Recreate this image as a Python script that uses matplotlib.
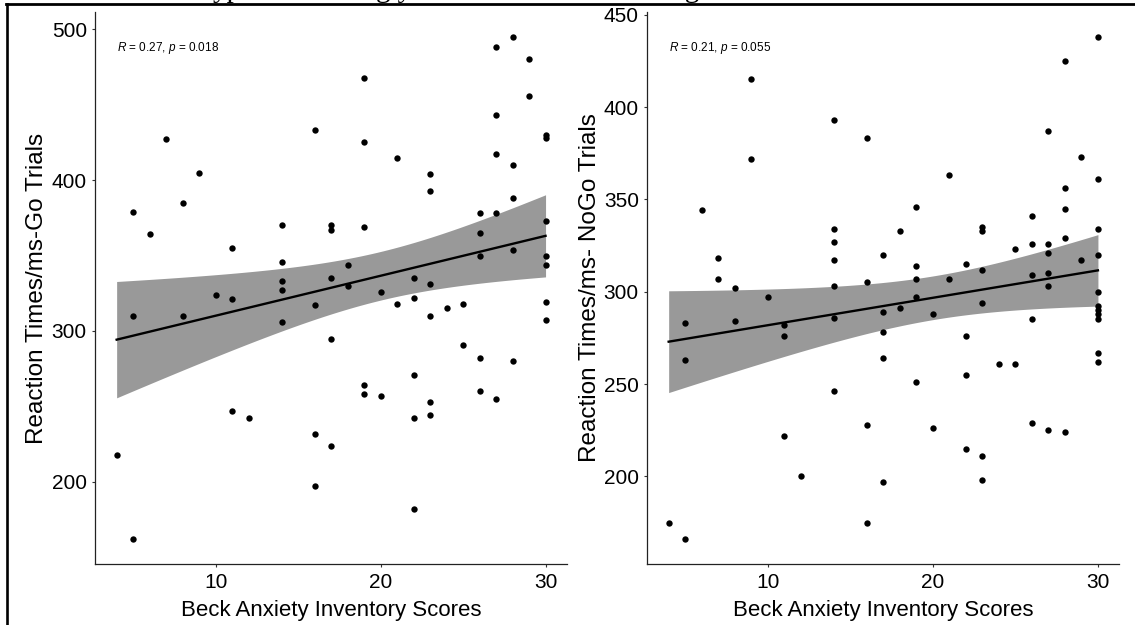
import numpy as np
import matplotlib
matplotlib.use("Agg")
import matplotlib.pyplot as plt
from matplotlib.lines import Line2D

plt.rcParams['font.family'] = ['Liberation Sans', 'DejaVu Sans']
plt.rcParams['mathtext.fontset'] = 'custom'
plt.rcParams['mathtext.it'] = 'Liberation Sans:italic'
plt.rcParams['mathtext.rm'] = 'Liberation Sans'

# ---------------- data ----------------
go_x = [4, 5, 5, 5, 6, 7, 8, 8, 9, 10, 11, 11, 11, 12, 14, 14, 14, 14, 14,
        16, 16, 16, 16, 17, 17, 17, 17, 17, 18, 18, 19, 19, 19, 19, 19, 20, 20,
        21, 21, 22, 22, 22, 22, 22, 23, 23, 23, 23, 23, 23, 24, 25, 25,
        26, 26, 26, 26, 26, 27, 27, 27, 27, 27, 28, 28, 28, 28, 28, 29, 29,
        30, 30, 30, 30, 30, 30, 30]
go_y = [218, 379, 310, 162, 364, 427, 385, 310, 405, 324, 355, 321, 247, 242,
        370, 346, 333, 327, 306, 433, 317, 232, 197, 370, 367, 335, 295, 224,
        344, 330, 468, 425, 369, 264, 258, 326, 257, 415, 318, 335, 322, 271,
        242, 182, 404, 393, 331, 310, 253, 244, 315, 318, 291, 378, 365, 350,
        282, 260, 488, 443, 417, 378, 255, 495, 410, 388, 354, 280, 480, 456,
        430, 428, 373, 350, 344, 319, 307]

nogo_x = [4, 5, 5, 5, 6, 7, 7, 8, 8, 9, 9, 10, 11, 11, 11, 12,
          14, 14, 14, 14, 14, 14, 14, 16, 16, 16, 16, 17, 17, 17, 17, 17,
          18, 18, 19, 19, 19, 19, 19, 20, 20, 21, 21, 22, 22, 22, 22,
          23, 23, 23, 23, 23, 23, 24, 25, 25, 26, 26, 26, 26, 26,
          27, 27, 27, 27, 27, 27, 28, 28, 28, 28, 28, 29, 29,
          30, 30, 30, 30, 30, 30, 30, 30, 30, 30, 30]
nogo_y = [175, 283, 263, 166, 344, 318, 307, 302, 284, 415, 372, 297, 282, 276,
          222, 200, 393, 334, 327, 317, 303, 286, 246, 383, 305, 228, 175,
          320, 289, 278, 264, 197, 333, 291, 346, 314, 307, 297, 251, 288, 226,
          363, 307, 315, 276, 255, 215, 335, 333, 312, 294, 211, 198, 261, 323,
          261, 341, 326, 309, 285, 229, 387, 326, 321, 310, 303, 225, 425, 356,
          345, 329, 224, 373, 317, 438, 361, 334, 320, 300, 292, 290, 288, 285,
          267, 262]

x_ticks = [10, 20, 30]
go_yticks = [200, 300, 400, 500]
nogo_yticks = [200, 250, 300, 350, 400, 450]
go_label = "$R$ = 0.27, $p$ = 0.018"
nogo_label = "$R$ = 0.21, $p$ = 0.055"
x_title = "Beck Anxiety Inventory Scores"
go_title = "Reaction Times/ms-Go Trials"
nogo_title = "Reaction Times/ms- NoGo Trials"

# ---------------- figure ----------------
W, H = 1135, 625
fig = plt.figure(figsize=(W / 100, H / 100), dpi=100)
fig.patch.set_facecolor('white')


def lm_band(x, y):
    x = np.asarray(x, float)
    y = np.asarray(y, float)
    n = len(x)
    b, a = np.polyfit(x, y, 1)
    resid = y - (a + b * x)
    s = np.sqrt(np.sum(resid ** 2) / (n - 2))
    xg = np.linspace(x.min(), x.max(), 80)
    yg = a + b * xg
    se = s * np.sqrt(1 / n + (xg - x.mean()) ** 2 / np.sum((x - x.mean()) ** 2))
    t = 1.992
    return xg, yg, yg - t * se, yg + t * se


def panel(rect, xs, ys, yticks, ylabel, ann, ylab_x):
    ax = fig.add_axes(rect)
    xg, yg, lo, hi = lm_band(xs, ys)
    ax.fill_between(xg, lo, hi, color='#999999', lw=0, zorder=1)
    ax.plot(xg, yg, color='black', lw=1.7, zorder=2)
    ax.scatter(xs, ys, s=21, color='black', lw=0, zorder=3)
    xr = max(xs) - min(xs)
    yr = max(ys) - min(ys)
    ax.set_xlim(min(xs) - 0.05 * xr, max(xs) + 0.05 * xr)
    ax.set_ylim(min(ys) - 0.05 * yr, max(ys) + 0.05 * yr)
    ax.set_xticks(x_ticks)
    ax.set_yticks(yticks)
    for sp in ['top', 'right']:
        ax.spines[sp].set_visible(False)
    for sp in ['left', 'bottom']:
        ax.spines[sp].set_linewidth(0.9)
        ax.spines[sp].set_color('#222222')
    ax.tick_params(length=2.5, width=0.8, color='#333333', labelsize=15,
                   labelcolor='black', pad=3.5)
    ax.set_xlabel(x_title, fontsize=16, va='baseline')
    ax.xaxis.set_label_coords(0.5, -0.094)
    ax.set_ylabel(ylabel, fontsize=17.5, va='center')
    ax.yaxis.set_label_coords(ylab_x, 0.5)
    ax.text(0.046, 0.935, ann, transform=ax.transAxes, fontsize=8.5,
            ha='left', va='center')
    return ax


bottom = 1 - 564.3 / H
height = (564.3 - 11.7) / H
panel([95.2 / W, bottom, (567 - 95.2) / W, height], go_x, go_y, go_yticks,
      go_title, go_label, -0.123)
panel([647.2 / W, bottom, (1119.4 - 647.2) / W, height], nogo_x, nogo_y,
      nogo_yticks, nogo_title, nogo_label, -0.121)

# page frame lines (from the source document)
fig.add_artist(Line2D([6 / W, 1.0], [1 - 4.2 / H, 1 - 4.2 / H],
                      transform=fig.transFigure, color='black', lw=2.0))
fig.add_artist(Line2D([7.3 / W, 7.3 / W], [0, 1 - 3.5 / H],
                      transform=fig.transFigure, color='black', lw=1.9))

# clipped text line of the surrounding document (only descenders visible)
for txt, px in [("ypothesis", 213), ("gly", 376), ("ing", 662)]:
    fig.text(px / W, 1 + 3.0 / H, txt, family=['Liberation Serif', 'DejaVu Serif'],
             fontsize=21, ha='left', va='baseline')

fig.savefig("out.png", dpi=100)
